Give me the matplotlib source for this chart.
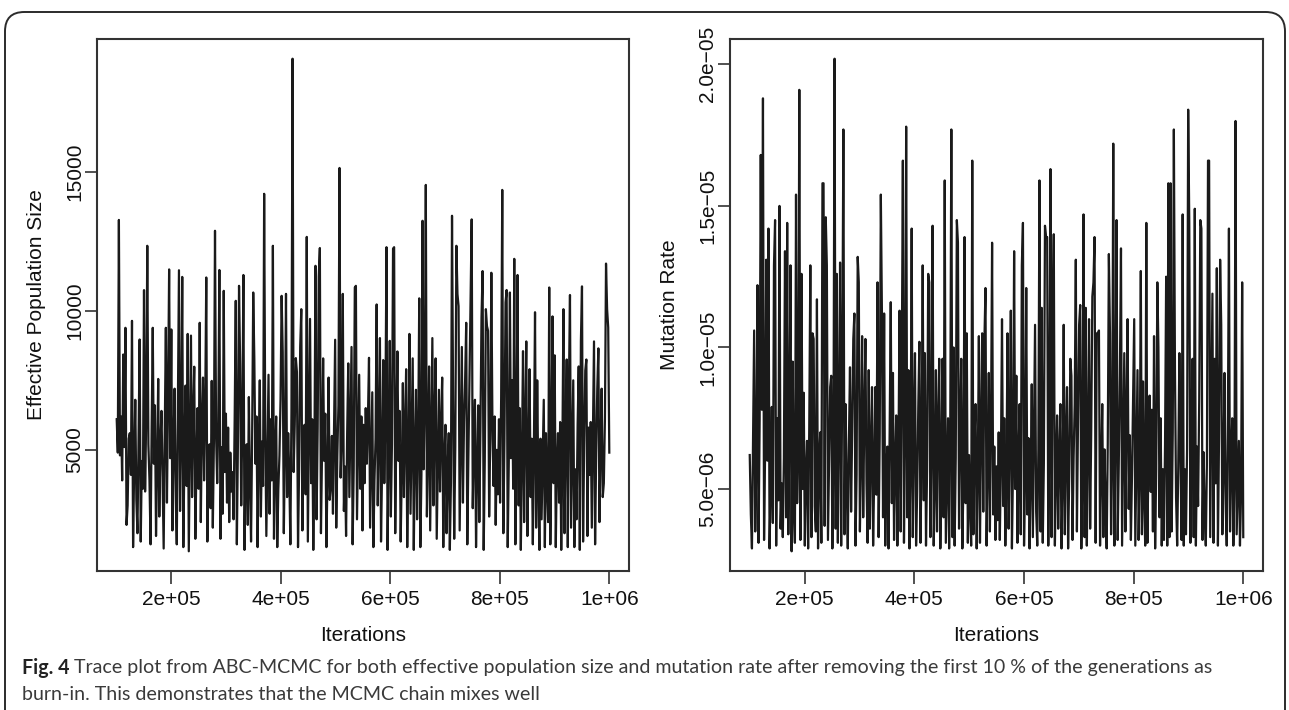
import numpy as np
import matplotlib
matplotlib.use("Agg")
import matplotlib.pyplot as plt
from matplotlib.patches import FancyBboxPatch

plt.rcParams['font.family'] = ['Liberation Sans', 'DejaVu Sans']

# ==== data (thinned chain, 1e5 .. 1e6) ====
ne_values = [
    # 1e5 - 3.1e5
    6100, 4900, 13270, 4800, 6200, 3900, 8430, 5100, 9390, 2300, 3000, 5400,
    5600, 4100, 9640, 1500, 4400, 6800, 3200, 2000, 5300, 8970,
    1700, 4600, 3600, 10745, 3500, 6100, 12340, 5200, 3900, 1600,
    5800, 9390, 4500, 6600, 1900, 4300, 7550, 2600, 5200, 6400,
    3800, 1450, 5700, 9390, 3100, 6900, 11490, 4700, 9330, 2100,
    5100, 7200, 3400, 1600, 6300, 11460, 2800, 5600, 11220, 1500,
    4800, 7310, 3700, 9170, 1350, 5400, 9110, 3300, 6200, 7990,
    1800, 4500, 6500, 3600, 9570, 2400, 5900, 7600, 3900, 6400,
    11200, 1700, 4200, 5200, 2900, 7480, 2200, 5300, 12880, 5500,
    3800, 6000, 11470, 1800, 5100, 2700, 10720, 4200, 6300, 3100, 5800, 2400, 4900, 3500,
    # 3.1e5 - 5.5e5
    4200, 2500, 6100, 10360, 1600, 5300, 10900, 8110, 3000, 5900,
    11290, 1400, 4600, 5200, 2300, 6900, 3800, 1700, 5500, 10660,
    8290, 4500, 6200, 1500, 4900, 7500, 2600, 5300, 3700, 14210,
    5800, 1900, 4800, 7700, 2700, 6100, 3900, 12340, 1800, 4700,
    6200, 1500, 3600, 4800, 6800, 10540, 8500, 2000, 5000, 10610,
    3300, 5600, 4100, 1600, 6400, 19070, 4200, 5900, 8300, 7800,
    1500, 4300, 8700, 10060, 2100, 5200, 5900, 3400, 12660, 1700,
    5600, 9710, 3800, 6100, 1400, 4700, 11620, 2500, 5800, 11230,
    12260, 2000, 4900, 8290, 4600, 6300, 1500, 4100, 7600, 3200, 3700, 5500, 2700,
    5700, 8960, 2200, 4800, 6600, 15140, 4000, 5400, 10610, 2800,
    4400, 1900, 5600, 8110, 3300, 6000, 8700, 1600, 4300, 10840,
    10900, 2500, 5200, 7700, 3600, 6200, 2100, 5900, 3800, 6500,
    # 5.5e5 - 8e5
    4500, 6100, 8310, 2200, 4700, 7070, 1500, 3900, 5400, 10230,
    3000, 5600, 9020, 1700, 4400, 8230, 3800, 6300, 12290, 1400,
    4900, 8920, 2600, 5200, 12240, 12290, 2000, 5700, 8540, 4600,
    6400, 1700, 4200, 7400, 3300, 5800, 7900, 1500, 4600, 9170,
    2700, 5500, 8290, 1400, 4900, 7160, 2500, 5300, 10450, 1500,
    4100, 13240, 4300, 6700, 14530, 2600, 5000, 8000, 2100, 5600,
    9020, 3000, 6100, 8290, 1800, 4400, 7160, 3500, 5900, 7600,
    1500, 4700, 5900, 2000, 4300, 5600, 1400, 3800, 13420, 6800,
    1800, 5100, 12340, 10600, 10170, 2100, 5300, 8700, 3100, 6000,
    7500, 9570, 1600, 4800, 7500, 10420, 13290, 2900, 5200, 6800,
    1500, 4300, 6600, 2400, 5700, 9770, 11430, 1400, 4600, 10060,
    9450, 9280, 2600, 5400, 11370, 5900, 3700, 6200, 2300, 5000, 3400, 6100,
    # 8e5 - 1e6
    3100, 6900, 14350, 2000, 5400, 10300, 10750, 1500, 4600, 10660,
    4700, 7500, 3600, 11870, 1600, 5100, 11290, 3000, 6500, 1400,
    4800, 8550, 2400, 5900, 8900, 1900, 4700, 7900, 3300, 5400,
    1600, 5200, 9950, 2200, 7500, 3900, 1400, 5400, 2500, 4600,
    6800, 1500, 5600, 3700, 2400, 10840, 1600, 5000, 9800, 3800,
    8400, 1500, 4500, 5600, 3100, 6000, 1400, 4700, 10060, 2000,
    5500, 8250, 1500, 7200, 10570, 2200, 4800, 7500, 1500, 4300,
    2500, 5900, 8000, 1400, 8920, 10880, 1700, 5200, 7850, 8250,
    1900, 5800, 4100, 6000, 2200, 5400, 8900, 1600, 4900, 7200,
    8650, 2400, 5100, 7200, 3300, 3800, 6100, 11700, 10060, 9400, 4900,
]

# mutation rate, in units of 1e-6
mu_values = [
    # 1e5 - 3.1e5
    6.2, 4.1, 2.9, 6.8, 10.6, 3.5, 5.9, 12.2, 3.1, 7.4,
    16.8, 7.8, 18.8, 3.2, 6.5, 13.1, 6.0, 14.2, 2.9, 5.1,
    7.9, 3.8, 12.9, 14.5, 3.0, 7.5, 4.6, 15.0, 3.6, 5.2,
    3.3, 6.1, 13.4, 4.0, 14.4, 3.4, 7.2, 12.9, 2.8, 9.5,
    4.3, 3.1, 15.4, 4.5, 6.3, 19.1, 3.2, 12.6, 5.0, 8.4,
    3.0, 5.6, 6.7, 2.9, 7.1, 12.9, 3.3, 10.5, 10.3, 4.4,
    3.5, 11.7, 2.9, 6.0, 7.0, 3.1, 15.8, 15.8, 3.7, 14.6,
    12.9, 3.2, 5.8, 8.6, 9.0, 2.9, 6.4, 20.2, 3.6, 12.6,
    3.1, 7.3, 13.0, 3.0, 9.3, 17.7, 3.4, 8.0, 5.3, 2.9,
    6.6, 9.3, 4.2, 7.1, 10.3, 11.2, 3.0, 5.5, 13.2, 12.3,
    3.5, 6.0, 10.4, 4.0, 7.6,
    # 3.1e5 - 5.5e5
    10.3, 5.2, 3.1, 9.2, 3.6, 6.4, 8.6, 3.0, 5.5, 8.6,
    4.8, 12.3, 3.3, 6.9, 15.4, 11.2, 4.0, 11.2, 3.0, 5.8,
    6.5, 2.9, 7.0, 11.6, 4.5, 9.1, 3.2, 5.9, 7.6, 3.0,
    6.3, 11.3, 3.5, 9.2, 16.6, 3.1, 6.8, 17.8, 4.0, 9.2,
    2.9, 5.6, 14.2, 3.3, 7.1, 9.8, 3.0, 4.9, 7.9, 10.2,
    3.1, 6.2, 12.9, 4.6, 9.8, 3.0, 5.7, 12.6, 12.3, 3.3,
    6.6, 14.3, 3.0, 5.1, 9.2, 3.5, 7.4, 9.6, 2.9, 6.0,
    9.6, 4.0, 15.9, 3.1, 5.4, 7.5, 2.9, 6.9, 17.7, 3.3,
    10.0, 3.0, 6.1, 14.5, 13.7, 3.6, 7.2, 9.6, 2.9, 5.3,
    13.9, 4.5, 10.5, 3.1, 6.2, 4.4, 3.0, 16.6, 3.4, 6.7,
    8.0, 2.9, 5.6, 10.4, 3.1, 7.0, 10.5, 4.2, 10.2, 12.1,
    3.0, 5.9, 9.1, 3.5, 7.3, 13.7, 4.1, 6.5, 3.2, 5.8, 3.9, 7.0,
    # 5.5e5 - 8e5
    3.2, 6.0, 11.0, 4.4, 7.5, 3.0, 5.4, 10.5, 3.6, 6.9,
    11.3, 2.9, 5.8, 13.4, 5.0, 9.0, 3.1, 6.2, 8.0, 3.4,
    12.9, 14.4, 3.0, 5.5, 12.1, 4.1, 6.8, 2.9, 5.3, 8.7,
    3.3, 7.0, 10.8, 4.2, 3.0, 6.4, 15.9, 3.5, 11.4, 3.1,
    5.9, 14.3, 13.9, 13.9, 3.0, 7.2, 16.3, 3.3, 11.0, 14.0,
    3.0, 5.6, 7.6, 3.6, 6.3, 8.0, 2.9, 5.1, 10.8, 3.4,
    6.7, 8.6, 2.9, 5.4, 9.6, 9.0, 3.2, 6.1, 8.0, 13.1,
    3.5, 7.4, 10.8, 11.5, 2.9, 5.8, 14.7, 3.3, 11.4, 3.0,
    6.5, 11.0, 3.6, 7.1, 11.8, 12.3, 13.9, 3.1, 10.5, 10.5,
    10.6, 3.0, 5.7, 8.0, 3.3, 6.4, 4.5, 2.9, 6.6, 13.3,
    10.5, 3.4, 6.0, 17.2, 3.0, 7.0, 14.5, 3.2, 5.9, 9.0,
    13.5, 3.0, 6.3, 9.8, 3.5, 7.7, 11.0, 4.3, 6.9, 3.2, 5.5, 8.2,
    # 8e5 - 1e6
    11.0, 3.0, 6.1, 9.2, 3.2, 5.4, 12.7, 3.4, 8.8, 4.6,
    3.0, 14.4, 3.1, 6.3, 8.3, 4.9, 7.8, 3.5, 10.4, 2.9, 5.7, 12.3,
    10.0, 4.0, 7.5, 3.0, 5.7, 3.2, 6.6, 12.5, 3.0, 15.8,
    3.3, 15.8, 3.5, 7.0, 17.7, 9.2, 4.7, 3.0, 5.8, 9.8, 6.2, 3.2,
    14.7, 3.0, 5.7, 3.4, 6.4, 18.4, 14.4, 3.1, 7.2, 9.6,
    3.3, 14.9, 3.0, 6.5, 4.4, 8.1, 14.5, 14.2, 3.2, 6.3, 4.1, 3.0,
    5.9, 16.6, 16.6, 3.3, 7.4, 11.9, 3.1, 9.6, 5.2, 12.8,
    3.0, 6.8, 13.1, 10.8, 3.4, 5.6, 9.1, 4.5, 3.0, 7.0, 14.2, 3.5,
    6.1, 7.5, 3.0, 5.3, 18.0, 3.4, 5.0, 6.7, 3.0, 4.8,
    12.3, 3.3,
]

x_ticks = [2e5, 4e5, 6e5, 8e5, 1e6]
x_ticklabels = ["2e+05", "4e+05", "6e+05", "8e+05", "1e+06"]
ne_ticks = [5000, 10000, 15000]
ne_ticklabels = ["5000", "10000", "15000"]
mu_ticks = [5e-6, 1e-5, 1.5e-5, 2e-5]
mu_ticklabels = ["5.0e\u221206", "1.0e\u221205", "1.5e\u221205", "2.0e\u221205"]

caption_bold = "Fig. 4"
caption_1 = ("Trace plot from ABC-MCMC for both effective population size and mutation rate "
             "after removing the first 10 % of the generations as")
caption_2 = "burn-in. This demonstrates that the MCMC chain mixes well"

ne = np.array(ne_values, dtype=float)
mu = np.array(mu_values) * 1e-6
it_ne = np.linspace(1e5, 1e6, len(ne))
it_mu = np.linspace(1e5, 1e6, len(mu))

W, H = 1289, 710
fig = plt.figure(figsize=(W / 100, H / 100), dpi=100)

# rounded frame around the figure (open at the bottom)
frame = FancyBboxPatch((5 / W, -0.05), (W - 9) / W, 1.05 - 12 / H,
                       boxstyle="round,pad=0,rounding_size=0.015",
                       transform=fig.transFigure, fill=False,
                       edgecolor="#2b2b2b", linewidth=1.4, mutation_aspect=W / H)
fig.patches.append(frame)


def rlim(v):
    # R style: 4 % padding on each side
    lo, hi = v.min(), v.max()
    r = hi - lo
    return lo - 0.04 * r, hi + 0.04 * r


def style(ax, yticks, yticklabels, ylabel):
    for s in ax.spines.values():
        s.set_color("#333333")
        s.set_linewidth(1.5)
    ax.set_xlim(64000, 1036000)
    ax.set_xticks(x_ticks)
    ax.set_xticklabels(x_ticklabels)
    ax.set_yticks(yticks)
    ax.set_yticklabels(yticklabels, rotation=90, va="center")
    ax.tick_params(direction="out", length=9, width=1.2, color="#333333",
                   labelsize=15, pad=5, labelcolor="#111111")
    ax.tick_params(axis="y", pad=0)
    ax.set_xlabel("Iterations", fontsize=15, labelpad=12, color="#111111")
    ax.set_ylabel(ylabel, fontsize=15, labelpad=14, color="#111111")


ax1 = fig.add_axes([97 / W, 1 - 571 / H, 532 / W, 532 / H])
ax1.plot(it_ne, ne, color="#1a1a1a", linewidth=1.6)
ax1.set_ylim(*rlim(ne))
style(ax1, ne_ticks, ne_ticklabels, "Effective Population Size")

ax2 = fig.add_axes([730 / W, 1 - 571 / H, 533 / W, 532 / H])
ax2.plot(it_mu, mu, color="#1a1a1a", linewidth=1.6)
ax2.set_ylim(*rlim(mu))
style(ax2, mu_ticks, mu_ticklabels, "Mutation Rate")

# caption
cap_font = ["Lato", "DejaVu Sans"]
y1 = 1 - 668 / H
y2 = 1 - 695 / H
tb = fig.text(22 / W, y1, caption_bold, fontsize=14.1, fontweight="bold",
              family=cap_font, color="#222222", va="center")
fig.canvas.draw()
bb = tb.get_window_extent()
fig.text((bb.x1 + 5) / W, y1, caption_1, fontsize=14.1, family=cap_font,
         color="#3a3a3a", va="center")
fig.text(22 / W, y2, caption_2, fontsize=14.1, family=cap_font,
         color="#3a3a3a", va="center")

fig.savefig("out.png", dpi=100)
